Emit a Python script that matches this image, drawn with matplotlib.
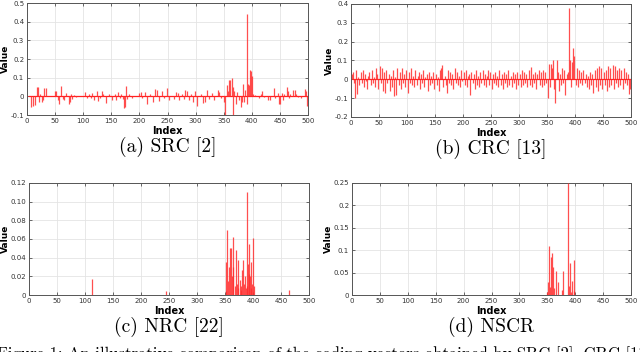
import numpy as np
import matplotlib
matplotlib.use("Agg")
import matplotlib.pyplot as plt

# ---------------- data ----------------
src_idx = [8, 10, 14, 17, 19, 21, 23, 26, 28, 31, 33, 50, 52, 55, 57, 60, 64, 66, 70, 74,
           76, 78, 80, 84, 88, 104, 106, 110, 113, 116, 120, 124, 126, 130, 134, 136, 140, 146, 152, 156,
           158, 162, 165, 168, 171, 173, 174, 176, 178, 182, 186, 200, 202, 205, 210, 214, 219, 224, 228, 231,
           235, 240, 244, 249, 252, 262, 266, 268, 271, 275, 280, 282, 284, 288, 292, 296, 299, 302, 310, 314,
           317, 320, 324, 330, 333, 340, 342, 345, 350, 352, 355, 358, 360, 362, 364, 366, 367, 369, 372, 374,
           377, 380, 382, 384, 386, 388, 391, 392, 393, 395, 397, 399, 400, 402, 405, 412, 416, 419, 422, 429,
           432, 440, 442, 446, 449, 451, 453, 455, 457, 462, 464, 466, 468, 474, 476, 478, 483, 487, 495, 497,
           499, 500]
src_val = [-0.058, -0.05, -0.045, 0.05, 0.048, -0.03, 0.01, -0.03, -0.02, 0.045, 0.045, 0.03, 0.028, -0.02, -0.04, 0.058, -0.015, -0.02, 0.018, -0.04,
           -0.03, 0.01, -0.015, 0.005, -0.005, 0.025, -0.01, 0.01, -0.01, 0.018, -0.02, 0.028, -0.025, -0.01, 0.03, 0.01, -0.035, 0.01, -0.02, 0.015,
           -0.02, 0.025, -0.01, 0.015, -0.015, -0.06, -0.058, 0.055, -0.015, 0.01, -0.01, 0.02, 0.025, -0.01, 0.025, -0.04, 0.01, -0.03, 0.04, 0.035,
           -0.025, 0.03, -0.01, 0.045, -0.02, -0.015, 0.025, 0.02, -0.02, 0.01, -0.015, 0.035, 0.03, -0.02, 0.01, -0.03, 0.03, -0.05, 0.01, -0.035,
           -0.03, 0.032, -0.015, 0.02, -0.02, 0.035, 0.025, -0.01, -0.03, -0.1, 0.06, 0.03, 0.09, 0.085, 0.1, 0.05, -0.1, 0.03, -0.04, 0.025,
           -0.02, -0.055, -0.03, 0.065, -0.03, 0.035, 0.44, -0.04, 0.065, 0.06, 0.14, 0.135, 0.11, 0.01, 0.005, -0.01, 0.01, 0.03, -0.005, -0.02,
           -0.02, 0.045, -0.01, 0.02, -0.04, -0.04, 0.02, -0.02, 0.01, 0.05, 0.03, -0.01, 0.01, 0.035, 0.033, 0.01, -0.005, -0.01, 0.04, 0.03,
           -0.05, -0.02]

crc_idx = list(range(1, 500, 2))
crc_val = [0.03, 0.04, -0.02, -0.10, 0.05, -0.08, 0.01, -0.03, 0.04, -0.02,
           0.05, -0.04, 0.03, -0.01, -0.05, 0.02, 0.04, -0.03, 0.05, -0.02,
           0.01, -0.04, 0.06, 0.03, -0.05, 0.07, -0.02, 0.06, -0.06, 0.04,
           -0.07, 0.05, -0.02, 0.03, -0.06, 0.02, -0.04, 0.05, -0.09, 0.01,
           -0.085, 0.06, -0.03, 0.04, -0.05, 0.06, -0.02, 0.03, -0.04, 0.05,
           -0.07, 0.04, -0.02, 0.06, -0.03, 0.02, -0.04, 0.05, -0.03, 0.02,
           0.04, -0.05, 0.03, -0.02, 0.05, -0.04, 0.01, 0.03, -0.06, 0.04,
           -0.03, 0.02, -0.02, 0.04, -0.05, 0.03, -0.03, 0.01, -0.06, 0.05,
           0.06, 0.075, -0.04, 0.02, -0.03, -0.075, 0.05, -0.02, 0.04, -0.03,
           0.03, -0.05, 0.06, -0.02, 0.04, -0.03, 0.02, -0.04, 0.05, -0.01,
           0.04, -0.03, 0.05, -0.04, 0.02, 0.03, -0.085, 0.04, -0.02, 0.03,
           -0.05, 0.05, -0.03, 0.02, -0.04, 0.04, -0.02, 0.05, -0.03, 0.03,
           -0.04, 0.02, 0.05, -0.03, 0.04, -0.05, 0.03, -0.02, 0.04, -0.03,
           0.02, -0.04, 0.05, -0.03, 0.03, -0.05, 0.04, -0.02, 0.03, -0.04,
           0.05, -0.03, 0.02, -0.04, 0.04, -0.02, 0.03, -0.05, 0.04, -0.03,
           0.03, -0.04, 0.05, -0.03, 0.04, -0.02, 0.03, -0.04, 0.05, -0.03,
           0.065, -0.04, 0.03, -0.02, 0.04, -0.05, 0.03, 0.05, -0.03, 0.04,
           -0.04, 0.05, -0.03, 0.04, -0.02, -0.10, 0.08, -0.04, 0.08, 0.06,
           0.10, -0.05, -0.125, 0.105, 0.04, -0.06, 0.03, -0.03, 0.06, -0.02,
           0.05, -0.085, 0.03, 0.04, 0.38, 0.10, -0.04, 0.09, 0.165, 0.125,
           -0.03, 0.06, -0.04, 0.05, -0.02, 0.04, -0.03, 0.05, -0.02, 0.03,
           -0.04, 0.02, -0.05, 0.04, -0.03, 0.03, -0.075, 0.05, -0.04, 0.06,
           -0.06, 0.07, -0.03, 0.06, -0.05, 0.04, -0.03, 0.05, -0.06, 0.07,
           -0.04, 0.06, -0.03, 0.075, -0.05, 0.07, -0.02, 0.05, -0.04, 0.06,
           -0.03, 0.05, -0.05, 0.06, -0.02, 0.04, -0.03, 0.03, -0.08, -0.05]

nrc_idx = [113, 245, 351, 352, 354, 355, 357, 359, 361, 362, 364, 365, 367, 369, 371, 373, 374, 376, 378, 379,
           381, 383, 384, 386, 387, 389, 390, 391, 392, 393, 395, 396, 397, 398, 400, 401, 465]
nrc_val = [0.017, 0.004, 0.004, 0.035, 0.07, 0.015, 0.03, 0.05, 0.05, 0.02, 0.062, 0.03, 0.01, 0.048, 0.012, 0.038, 0.008, 0.016, 0.01, 0.005,
           0.027, 0.038, 0.012, 0.02, 0.008, 0.11, 0.01, 0.033, 0.022, 0.055, 0.02, 0.008, 0.035, 0.012, 0.061, 0.01, 0.005]

nscr_idx = [350, 352, 353, 355, 357, 359, 360, 362, 366, 369, 376, 379, 387, 389, 391, 392, 394, 397, 398]
nscr_val = [0.007, 0.03, 0.11, 0.018, 0.085, 0.094, 0.062, 0.015, 0.053, 0.03, 0.012, 0.054, 0.25, 0.02, 0.072, 0.006, 0.032, 0.078, 0.01]

captions = ["(a) SRC [2]", "(b) CRC [13]", "(c) NRC [22]", "(d) NSCR"]
fig_caption = "Figure 1: An illustrative comparison of the coding vectors obtained by SRC [2], CRC [13]"

a_yticks = [-0.1, 0, 0.1, 0.2, 0.3, 0.4, 0.5]
a_ylabels = ["-0.1", "0", "0.1", "0.2", "0.3", "0.4", "0.5"]
b_yticks = [-0.2, -0.1, 0, 0.1, 0.2, 0.3, 0.4]
b_ylabels = ["-0.2", "-0.1", "0", "0.1", "0.2", "0.3", "0.4"]
c_yticks = [0, 0.02, 0.04, 0.06, 0.08, 0.10, 0.12]
c_ylabels = ["0", "0.02", "0.04", "0.06", "0.08", "0.10", "0.12"]
d_yticks = [0, 0.05, 0.1, 0.15, 0.2, 0.25]
d_ylabels = ["0", "0.05", "0.1", "0.15", "0.2", "0.25"]
xticks = [0, 50, 100, 150, 200, 250, 300, 350, 400, 450, 500]

# ---------------- figure ----------------
W, H = 640, 352
fig = plt.figure(figsize=(W / 100, H / 100), dpi=100)
fig.patch.set_facecolor("white")

def rect(l, r, t, b):
    return [l / W, 1 - b / H, (r - l) / W, (b - t) / H]

panels = [
    (rect(27, 308, 3, 115), src_idx, src_val, (-0.1, 0.5), a_yticks, a_ylabels, True),
    (rect(351, 631, 4, 117), crc_idx, crc_val, (-0.2, 0.4), b_yticks, b_ylabels, True),
    (rect(29, 309, 183, 295), nrc_idx, nrc_val, (0, 0.12), c_yticks, c_ylabels, False),
    (rect(352, 631, 183, 295), nscr_idx, nscr_val, (0, 0.25), d_yticks, d_ylabels, False),
]

for k, (pos, idx, val, ylim, yt, yl, base) in enumerate(panels):
    ax = fig.add_axes(pos)
    ax.set_xlim(0, 500)
    ax.set_ylim(*ylim)
    ax.grid(True, color="#e4e4e4", lw=0.6)
    ax.set_axisbelow(True)
    if base:
        ax.hlines(0, 1, 500, color="#ff2020", lw=0.9, zorder=2)
    ax.vlines(idx, 0, val, color="#ff3030", lw=0.9, alpha=0.85, zorder=3)
    ax.set_xticks(xticks)
    ax.set_xticklabels([str(t) for t in xticks])
    ax.set_yticks(yt)
    ax.set_yticklabels(yl)
    ax.tick_params(labelsize=5, length=2, width=0.5, direction="in", pad=2,
                   top=True, right=True, colors="#333333")
    for s in ax.spines.values():
        s.set_color("#555555")
        s.set_linewidth(0.7)
    ax.set_xlabel("Index", fontsize=7, fontweight="bold", labelpad=1.5)
    ax.set_ylabel("Value", fontsize=6.5, fontweight="bold", labelpad=0.5)
    cx = pos[0] + pos[2] / 2
    cy = pos[1] - 32 / H
    fig.text(cx, cy, captions[k], fontsize=14, family="cmr10", ha="center", va="center")

fig.text(-0.005, 1 - 346 / H, fig_caption, fontsize=12.0, family="cmr10", ha="left", va="top")

fig.savefig("out.png", dpi=100)
